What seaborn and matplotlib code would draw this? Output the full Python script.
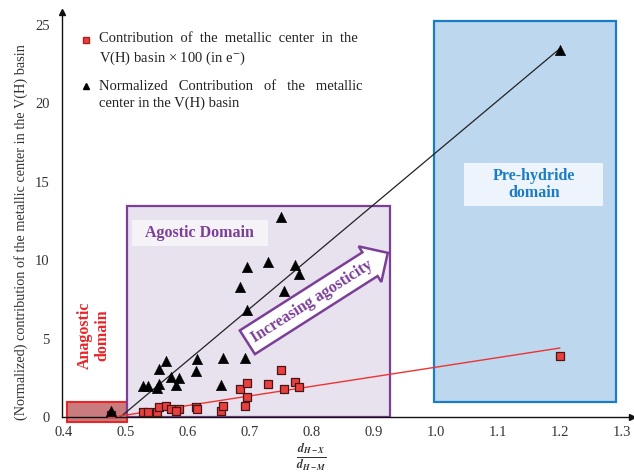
import numpy as np
import pandas as pd
import matplotlib
matplotlib.use("Agg")
import matplotlib.pyplot as plt
import seaborn as sns
from matplotlib.patches import Rectangle
from matplotlib.lines import Line2D
from matplotlib.legend_handler import HandlerLine2D

# ---------------- data ----------------
sq_x = [0.477, 0.529, 0.537, 0.551, 0.555, 0.565, 0.574, 0.586, 0.581, 0.614, 0.615,
        0.654, 0.658, 0.692, 0.696, 0.684, 0.696, 0.730, 0.756, 0.750, 0.774, 0.779, 1.200]
sq_y = [0.10, 0.34, 0.34, 0.32, 0.62, 0.70, 0.49, 0.49, 0.38, 0.66, 0.53,
        0.40, 0.70, 0.70, 1.30, 1.80, 2.19, 2.10, 1.80, 2.98, 2.21, 1.91, 3.90]

tri_x = [0.477, 0.529, 0.537, 0.551, 0.555, 0.555, 0.566, 0.574, 0.587, 0.581, 0.614, 0.616,
         0.654, 0.658, 0.692, 0.696, 0.684, 0.696, 0.730, 0.756, 0.774, 0.779, 0.750, 1.200]
tri_y = [0.40, 1.98, 2.00, 1.83, 2.08, 3.08, 3.59, 2.57, 2.50, 2.02, 2.96, 3.68,
         2.02, 3.76, 3.76, 6.82, 8.27, 9.59, 9.89, 8.04, 9.69, 9.12, 12.74, 23.40]

trend_sq_x = [0.489, 1.200]
trend_sq_y = [0.05, 4.40]
trend_tri_x = [0.492, 1.200]
trend_tri_y = [0.00, 23.50]

x_ticks = [0.4, 0.5, 0.6, 0.7, 0.8, 0.9, 1.0, 1.1, 1.2, 1.3]
y_ticks = [0, 5, 10, 15, 20, 25]

# (double / en spaces mimic the justified text of the original legend)
label_sq = "Contribution  of  the  metallic  center  in  the\nV(H) basin \u00d7 100 (in e$^{-}$)"
label_tri = "Normalized \u2002Contribution \u2002of \u2002the \u2002metallic\ncenter in the V(H) basin"
y_label = "(Normalized) contribution of the metallic center in the V(H) basin"
x_label = r"$\frac{\mathbfit{d}_{\mathbfit{H-X}}}{\mathbfit{d}_{\mathbfit{H-M}}}$"

df_sq = pd.DataFrame({"x": sq_x, "y": sq_y})
df_tri = pd.DataFrame({"x": tri_x, "y": tri_y})

# ---------------- style ----------------
sns.set_style("white")
plt.rcParams["font.family"] = ["Liberation Serif", "DejaVu Serif"]
plt.rcParams["mathtext.fontset"] = "stix"

PURPLE = "#7b3f98"
RED = "#e8262a"
BLUE = "#1b7cc6"

fig = plt.figure(figsize=(6.34, 4.73), dpi=100)
ax = fig.add_axes([62 / 634, 56 / 473, 570 / 634, 405 / 473])

# ---------------- domain boxes ----------------
ax.add_patch(Rectangle((0.406, -0.32), 0.097, 1.28, fc="#c97b7d", ec=RED, lw=1.5,
                       zorder=1, clip_on=False))
ax.add_patch(Rectangle((0.503, 0.0), 0.424, 13.46, fc="#e8e1ee", ec=PURPLE, lw=1.6, zorder=1))
ax.add_patch(Rectangle((0.997, 0.96), 0.293, 24.3, fc="#bdd7ee", ec=BLUE, lw=1.6, zorder=1))

# label backgrounds
ax.add_patch(Rectangle((0.511, 10.91), 0.219, 1.65, fc="#f5f2f8", ec="none", zorder=2))
ax.add_patch(Rectangle((1.046, 13.46), 0.224, 2.74, fc="#eef4fb", ec="none", zorder=2))

ax.text(0.62, 11.73, "Agostic Domain", ha="center", va="center", color=PURPLE,
        fontsize=11.5, fontweight="bold", zorder=3)
ax.text(1.158, 14.83, "Pre-hydride\ndomain", ha="center", va="center", color=BLUE,
        fontsize=11.5, fontweight="bold", linespacing=1.15, zorder=3)
ax.text(0.449, 5.2, "Anagostic\ndomain", ha="center", va="center", color=RED,
        fontsize=11.5, fontweight="bold", rotation=90, linespacing=1.1, zorder=3)

ax.text(0.803, 7.45, "Increasing agosticity ", ha="center", va="center", color=PURPLE,
        fontsize=11.5, fontweight="bold", rotation=32.5, rotation_mode="anchor", zorder=4,
        bbox=dict(boxstyle="rarrow,pad=0.38", fc="white", ec=PURPLE, lw=1.8))

# ---------------- trend lines ----------------
sns.lineplot(x=trend_tri_x, y=trend_tri_y, color="#222222", lw=0.9, ax=ax, zorder=3)
sns.lineplot(x=trend_sq_x, y=trend_sq_y, color="#ee3333", lw=1.0, ax=ax, zorder=3)

# ---------------- scatter ----------------
sns.scatterplot(data=df_sq, x="x", y="y", marker="s", s=38, color="#e8403e",
                edgecolor="#4a1515", linewidth=0.9, ax=ax, zorder=5, legend=False)
sns.scatterplot(data=df_tri, x="x", y="y", marker="^", s=58, color="black",
                edgecolor="black", linewidth=0.3, ax=ax, zorder=5, legend=False)

# ---------------- axes ----------------
ax.set_xlim(0.398, 1.316)
ax.set_ylim(0, 25.83)
ax.set_xticks(x_ticks)
ax.set_xticklabels([f"{v:.1f}" for v in x_ticks])
ax.set_yticks(y_ticks)
ax.tick_params(axis="both", direction="out", length=3, width=0.8, color="#555555",
               labelsize=10.5, labelcolor="#333333")
ax.tick_params(axis="x", pad=3.5)
ax.tick_params(axis="y", pad=6)
sns.despine(ax=ax)
for s in ("left", "bottom"):
    ax.spines[s].set_color("#111111")
    ax.spines[s].set_linewidth(1.0)
ax.grid(False)

ax.plot([0], [1], marker="^", ms=5, color="#111111", transform=ax.transAxes, clip_on=False)
ax.plot([1], [0], marker=">", ms=4, color="#111111", transform=ax.transAxes, clip_on=False)

ax.set_ylabel(y_label, fontsize=10.3, color="#333333")
ax.yaxis.set_label_coords(-0.06, 0.457)
ax.set_xlabel(x_label, fontsize=12.5, color="#333333")
ax.xaxis.set_label_coords(0.437, -0.062)
ax.xaxis.label.set_va("top")


# ---------------- legend ----------------
class TopHandler(HandlerLine2D):
    def __init__(self, dy, **kw):
        super().__init__(**kw)
        self.dy = dy

    def create_artists(self, legend, orig_handle, xdescent, ydescent, width, height,
                       fontsize, trans):
        arts = super().create_artists(legend, orig_handle, xdescent, ydescent, width,
                                      height, fontsize, trans)
        for a in arts:
            a.set_ydata(np.asarray(a.get_ydata(), dtype=float) + self.dy)
        return arts


h_sq = Line2D([], [], marker="s", ls="none", mfc="#e8403e", mec="#b02020", ms=5)
h_tri = Line2D([], [], marker="^", ls="none", mfc="black", mec="black", ms=5)
leg = ax.legend([h_sq, h_tri], [label_sq, label_tri], loc="upper left",
                bbox_to_anchor=(0.0325, 0.95), frameon=False, borderpad=0,
                borderaxespad=0, handlelength=0.8, handletextpad=0.45,
                labelspacing=0.9, fontsize=10.5,
                handler_map={h_sq: TopHandler(6.5), h_tri: TopHandler(6.5)})
for t in leg.get_texts():
    t.set_linespacing(1.35)
    t.set_color("#222222")

fig.savefig("out.png", dpi=100)
